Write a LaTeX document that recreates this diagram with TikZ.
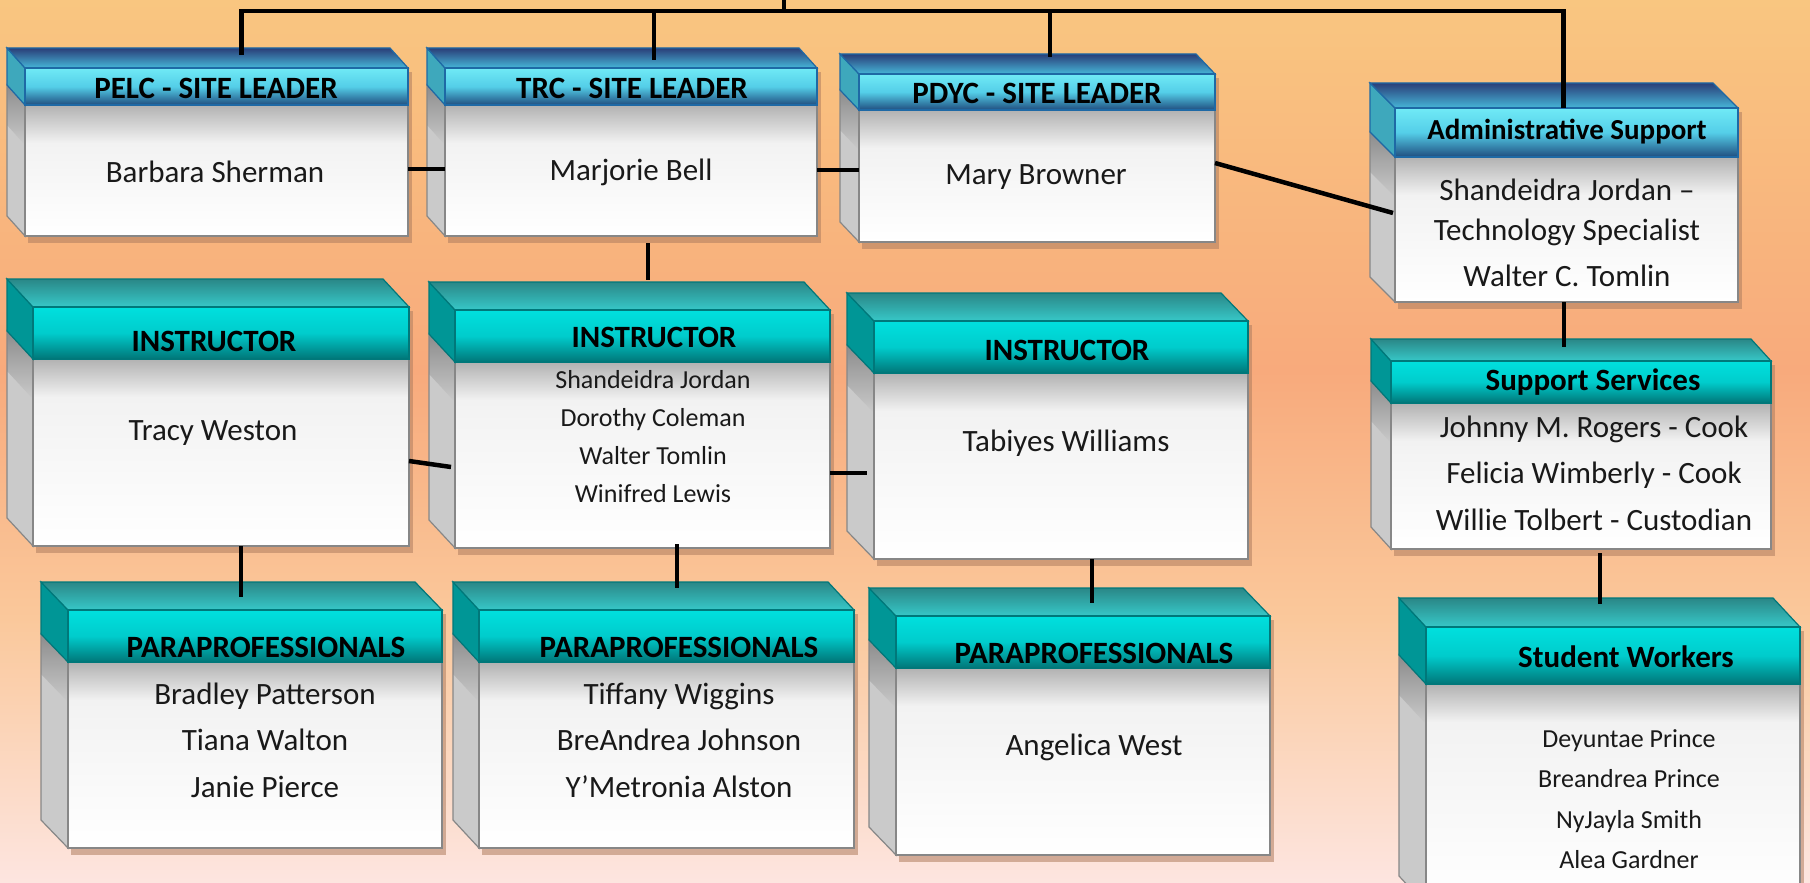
\documentclass[tikz,border=0pt]{standalone}
\usepackage{fontspec}
\setmainfont{Carlito}
\usetikzlibrary{calc}

\definecolor{bgtop}{RGB}{249,198,128}
\definecolor{bgmid}{RGB}{248,170,124}
\definecolor{bglow}{RGB}{250,200,155}
\definecolor{bgbot}{RGB}{253,229,224}
\pgfdeclareverticalshading{bgshade}{100bp}{color(0bp)=(bgbot); color(25bp)=(bgbot);
  color(40bp)=(bglow); color(54bp)=(bgmid); color(75bp)=(bgtop); color(100bp)=(bgtop)}

\definecolor{bluehi}{RGB}{112,234,246}
\definecolor{bluemid}{RGB}{84,206,232}
\definecolor{bluelo}{RGB}{32,78,128}
\definecolor{blueback}{RGB}{42,62,120}
\definecolor{bluefront}{RGB}{70,182,216}
\definecolor{blueside}{RGB}{62,168,188}
\definecolor{blueedge}{RGB}{30,105,165}
\definecolor{tealhi}{RGB}{0,224,222}
\definecolor{tealmid}{RGB}{0,204,204}
\definecolor{teallo}{RGB}{0,118,120}
\definecolor{tealback}{RGB}{42,135,135}
\definecolor{tealfront}{RGB}{55,200,200}
\definecolor{tealside}{RGB}{0,150,150}
\definecolor{tealedge}{RGB}{0,120,122}
\definecolor{sidetop}{RGB}{140,140,140}
\definecolor{sidebot}{RGB}{202,202,202}
\definecolor{bodytop}{RGB}{178,178,178}
\definecolor{bodymid}{RGB}{242,242,242}
\definecolor{bodyedge}{RGB}{135,135,135}
\definecolor{shadowcol}{RGB}{175,125,95}

\newcommand{\hdr}{\fontsize{31}{36}\selectfont\bfseries}
\newcommand{\txt}{\fontsize{31}{46.5}\selectfont}
\newcommand{\sm}{\fontsize{26}{38}\selectfont}

\tikzset{
  link/.style={line width=4.5pt, black},
  boxshadow/.style={fill=shadowcol, opacity=.55},
  names/.style={align=center, text=black!90},
  heads/.style={align=center, text=black}
}

% name, left, header top, header bottom, right, bottom, depth x, depth y, colours
\newcommand{\orgbox}[9]{%
  \fill[boxshadow] (#2+3,#3+4) rectangle (#5+4,#6+7);
  \fill[sidebot] (#2,#4) -- (#2-#7,#4-#8) -- (#2-#7,#6-#8) -- (#2,#6) -- cycle;
  \shade[top color=sidetop, bottom color=sidebot]
    (#2,#4) -- (#2-#7,#4-#8) -- (#2-#7,#4-#8+40) -- (#2,#4+40) -- cycle;
  \draw[bodyedge, line width=1.2pt] (#2,#4) -- (#2-#7,#4-#8) -- (#2-#7,#6-#8) -- (#2,#6) -- cycle;
  \shade[top color=bodytop, bottom color=bodymid] (#2,#4) rectangle (#5,#4+38);
  \shade[top color=bodymid, bottom color=white] (#2,#4+38) rectangle (#5,#6);
  \draw[bodyedge, line width=1.5pt] (#2,#4) rectangle (#5,#6);
  \filldraw[fill=#9side, draw=#9edge, line width=1.2pt]
    (#2,#3) -- (#2-#7,#3-#8) -- (#2-#7,#4-#8) -- (#2,#4) -- cycle;
  \shadedraw[top color=#9back, bottom color=#9front, draw=#9edge, line width=1.2pt]
    (#2,#3) -- (#2-#7,#3-#8) -- (#5-#7,#3-#8) -- (#5,#3) -- cycle;
  \shadedraw[top color=#9hi, bottom color=#9lo, middle color=#9mid, draw=#9edge, line width=1.2pt]
    (#2,#3) rectangle (#5,#4);
  \node[inner sep=0pt, outer sep=0pt, minimum width={(#5-#2)*1pt}, minimum height={(#6-#3)*1pt}]
    (#1) at ({(#2+#5)/2},{(#3+#6)/2}) {};
}

\begin{document}
\begin{tikzpicture}[x=1pt,y=-1pt]
  \useasboundingbox (0,0) rectangle (1810,883);
  \shade[shading=bgshade] (0,0) rectangle (1810,883);

  \orgbox{pelc}{25}{68}{105}{408}{236}{18}{20}{blue}
  \orgbox{trc}{445}{68}{105}{817}{236}{18}{20}{blue}
  \orgbox{pdyc}{859}{74}{110}{1215}{242}{19}{20}{blue}
  \orgbox{admin}{1395}{108}{157}{1738}{302}{25}{25}{blue}
  \orgbox{instr1}{33}{307}{359}{409}{546}{26}{28}{teal}
  \orgbox{instr2}{455}{310}{362}{830}{548}{26}{28}{teal}
  \orgbox{instr3}{874}{321}{373}{1248}{559}{27}{28}{teal}
  \orgbox{support}{1391}{361}{403}{1771}{549}{20}{22}{teal}
  \orgbox{para1}{68}{610}{662}{442}{848}{27}{28}{teal}
  \orgbox{para2}{479}{610}{662}{854}{848}{26}{28}{teal}
  \orgbox{para3}{896}{616}{668}{1270}{855}{27}{28}{teal}
  \orgbox{sw}{1426}{627}{684}{1800}{905}{27}{29}{teal}

  \coordinate (bus) at (784,11);
  \draw[link] (bus) -- ++(0,-15);
  \draw[link] ($(pelc.north)+(25,-13)$) |- (bus) -| ($(admin.north)+(-3,0)$);
  \draw[link] ($(trc.north)+(23,-8)$) |- (bus);
  \draw[link] ($(pdyc.north)+(13,-17)$) |- (bus);

  \draw[link] ($(pelc.east)+(0,17)$) -- ($(trc.west)+(0,17)$);
  \draw[link] ($(trc.east)+(0,18)$) -- ($(pdyc.west)+(0,12)$);
  \draw[link] ($(pdyc.east)+(0,5)$) -- ($(admin.west)+(-2,8)$);
  \draw[link] ($(instr1.east)+(0,34.5)$) -- ($(instr2.west)+(-4,38)$);
  \draw[link] ($(instr2.east)+(0,44)$) -- ($(instr3.west)+(-7,33)$);
  \draw[link] ($(trc.south)+(17,7)$) -- ($(instr2.north)+(5.5,-30)$);
  \draw[link] ($(instr1.south)+(20,0)$) -- ($(para1.north)+(-14,-13)$);
  \draw[link] ($(instr2.south)+(34.5,-4)$) -- ($(para2.north)+(10.5,-22)$);
  \draw[link] ($(instr3.south)+(31,0)$) -- ($(para3.north)+(9,-13)$);
  \draw[link] ($(admin.south)+(-2.5,0)$) -- ($(support.north)+(-17,-14)$);
  \draw[link] ($(support.south)+(19,4)$) -- ($(sw.north)+(-13,-23)$);

  \node[heads, font=\hdr] (pelct) at (216,88) {PELC - SITE LEADER};
  \node[names, font=\txt] (pelcn) at (215,172) {Barbara Sherman};
  \node[heads, font=\hdr] (trct) at (632,88) {TRC - SITE LEADER};
  \node[names, font=\txt] (trcn) at (631,172) {Marjorie Bell};
  \node[heads, font=\hdr] (pdyct) at (1037,93) {PDYC - SITE LEADER};
  \node[names, font=\txt] (pdycn) at (1036,177) {Mary Browner};
  \node[heads, font={\fontsize{29}{34}\selectfont\bfseries}] (admint) at (1567,132) {Administrative Support};
  \node[names, font={\fontsize{31}{40}\selectfont}] (adminn) at (1567,233)
    {Shandeidra Jordan –\\Technology Specialist\\[6pt]Walter C. Tomlin};

  \node[heads, font=\hdr] (instr1t) at (214,341) {INSTRUCTOR};
  \node[names, font=\txt] (instr1n) at (213,433) {Tracy Weston};
  \node[heads, font=\hdr] (instr2t) at (654,337) {INSTRUCTOR};
  \node[names, font=\sm] (instr2n) at (653,437)
    {Shandeidra Jordan\\Dorothy Coleman\\Walter Tomlin\\Winifred Lewis};
  \node[heads, font=\hdr] (instr3t) at (1067,350) {INSTRUCTOR};
  \node[names, font=\txt] (instr3n) at (1066,443) {Tabiyes Williams};
  \node[heads, font=\hdr] (supportt) at (1593,382) {Support Services};
  \node[names, font=\txt] (supportn) at (1594,473)
    {Johnny M. Rogers - Cook\\Felicia Wimberly - Cook\\Willie Tolbert - Custodian};

  \node[heads, font=\hdr] (para1t) at (266,647) {PARAPROFESSIONALS};
  \node[names, font=\txt] (para1n) at (265,740) {Bradley Patterson\\Tiana Walton\\Janie Pierce};
  \node[heads, font=\hdr] (para2t) at (679,647) {PARAPROFESSIONALS};
  \node[names, font=\txt] (para2n) at (679,740) {Tiffany Wiggins\\BreAndrea Johnson\\Y’Metronia Alston};
  \node[heads, font=\hdr] (para3t) at (1094,653) {PARAPROFESSIONALS};
  \node[names, font=\txt] (para3n) at (1094,747) {Angelica West};
  \node[heads, font=\hdr] (swt) at (1626,657) {Student Workers};
  \node[names, font={\fontsize{26}{40.5}\selectfont}] (swn) at (1629,799)
    {Deyuntae Prince\\Breandrea Prince\\NyJayla Smith\\Alea Gardner};
\end{tikzpicture}
\end{document}
